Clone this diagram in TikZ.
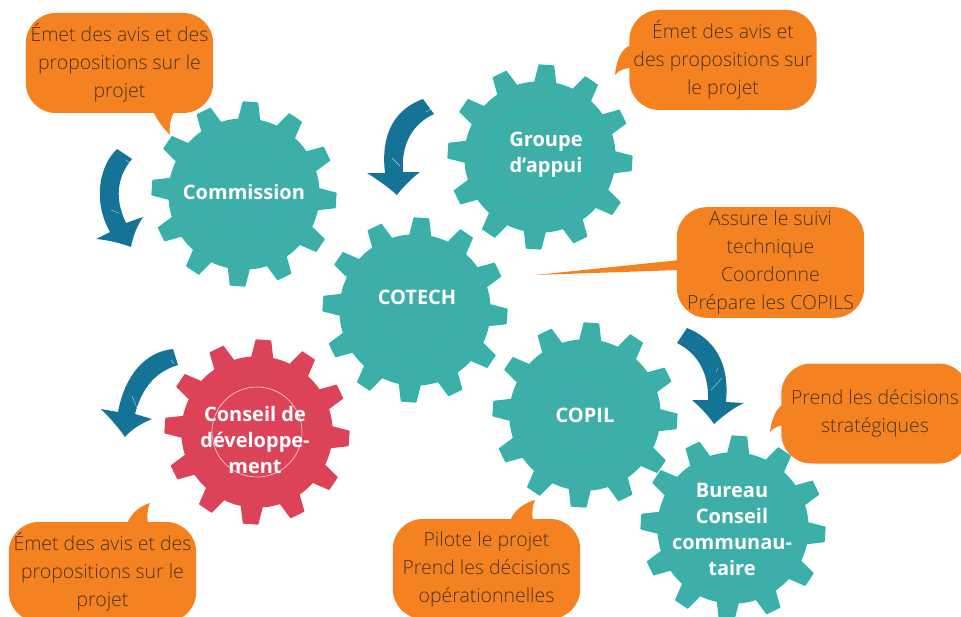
\documentclass[tikz,border=0pt]{standalone}
\usepackage{fontspec}
\setmainfont{Open Sans Light}[BoldFont={Open Sans Bold}]
\usepackage{tikz}
\usetikzlibrary{positioning}

\definecolor{bubbleorange}{HTML}{F58220}
\definecolor{gearteal}{HTML}{3DAFA8}
\definecolor{gearedge}{HTML}{2DB5AD}
\definecolor{gearred}{HTML}{DC4358}
\definecolor{arrowblue}{HTML}{147396}
\definecolor{bubbletext}{HTML}{4A3420}

\tikzset{
  bubble/.style = {fill=bubbleorange, rounded corners=30*0.75pt, inner sep=0pt, align=center,
    text=bubbletext, font=\fontsize{14.6pt}{21pt}\selectfont, minimum width=140.5pt, minimum height=75pt},
  gearlabel/.style = {text=white, align=center, inner sep=0pt, font=\fontsize{15pt}{19.5pt}\selectfont\bfseries},
  bentarrow/.style = {fill=arrowblue},
  scratch/.style = {white, line width=.3pt, opacity=.7}
}

% center, rotation, colour, hub ring
\newcommand{\cogwheel}[4]{
  \begin{scope}[shift = {(#1)}, rotate = #2]
    \draw[#3, fill=#3!100, line width=1pt, line join=round, draw=#4] (-8:75) \foreach \a in {0,30,...,330} {
      -- (\a-8:75) -- (\a-4.5:92) -- (\a+4.5:92) -- (\a+8:75) arc[start angle=\a+8, end angle=\a+22, radius=75]
    } -- cycle;
  \end{scope}
}

\begin{document}
\begin{tikzpicture}[x=0.75pt, y=-0.75pt]
  \useasboundingbox (0,0) rectangle (961,617);
  \clip (0,0) rectangle (961,617);

  % gears
  \cogwheel{244,194}{-4}{gearteal}{gearedge}
  \cogwheel{540,157}{-4}{gearteal}{gearedge}
  \cogwheel{415,310}{-4}{gearteal}{gearedge}
  \cogwheel{585,415}{-4}{gearteal}{gearedge}
  \cogwheel{257,432}{-4}{gearred}{gearred}
  \cogwheel{733,528}{-4}{gearteal}{gearedge}

  \draw[gearedge, line width=.5pt] (244,194) circle (46);
  \draw[gearedge, line width=2pt] (540,157) circle (50);
  \draw[gearedge, line width=.5pt] (415,310) circle (46);
  \draw[gearedge, line width=1pt] (585,415) circle (46);
  \draw[white!70!gearred, line width=.5pt] (257,432) circle (45);
  \draw[gearedge, line width=.3pt] (733,528) circle (46);

  \node[gearlabel] (commission) at (244,192) {Commission};
  \node[gearlabel] (groupe) at (546,155) {Groupe\\d'appui};
  \node[gearlabel] (cotech) at (417,297) {COTECH};
  \node[gearlabel] (copil) at (585,415) {COPIL};
  \node[gearlabel] (conseil) at (255,440) {Conseil de\\développe-\\ment};
  \node[gearlabel] (bureau) at (732,529) {Bureau\\Conseil\\communau-\\taire};

  % arrows
  \fill[bentarrow] (117,149) .. controls (100,165) and (92,200) .. (110,232) -- (96,239)
    .. controls (108,240) and (120,243) .. (131,247) .. controls (133,236) and (137,226) .. (143,217)
    -- (126,223) .. controls (115,200) and (116,178) .. (132,159) -- cycle;
  \fill[bentarrow] (423,99) .. controls (398,108) and (380,130) .. (385,173) -- (367,173)
    .. controls (378,180) and (388,187) .. (397,195) .. controls (403,187) and (411,179) .. (420,172)
    -- (403,172) .. controls (401,145) and (412,124) .. (434,114) -- cycle;
  \fill[bentarrow] (687,328) .. controls (712,338) and (730,360) .. (726,402) -- (744,403)
    .. controls (733,408) and (723,416) .. (714,424) .. controls (708,415) and (700,407) .. (692,400)
    -- (708,400) .. controls (709,375) and (699,354) .. (677,343) -- cycle;
  \fill[bentarrow] (173,349) .. controls (145,352) and (125,375) .. (118,412) -- (101,409)
    .. controls (110,418) and (118,427) .. (125,437) .. controls (131,430) and (140,424) .. (152,419)
    -- (135,414) .. controls (142,388) and (155,372) .. (178,365) -- cycle;

  \draw[scratch] (111,210) -- (119,213) (126,160) -- (130,163);
  \draw[scratch] (392,158) -- (400,166) (426,112) -- (431,109);
  \draw[scratch] (711,390) -- (722,378) (716,372) -- (718,368);
  \draw[scratch] (132,396) -- (137,408) (171,360) -- (174,364);

  % bubbles
  \fill[bubbleorange] (153,111) .. controls (158,122) and (165,130) .. (170,135) .. controls (169,128) and (170,118) .. (175,111) -- cycle;
  \fill[bubbleorange] (631,45) .. controls (621,48) and (616,62) .. (615,75) .. controls (619,70) and (625,68) .. (631,68) -- cycle;
  \fill[bubbleorange] (680,260) -- (535,275) -- (680,270) -- cycle;
  \fill[bubbleorange] (787,402) .. controls (777,405) and (771,420) .. (770,432) .. controls (774,427) and (780,425) .. (787,425) -- cycle;
  \fill[bubbleorange] (127,524) .. controls (131,513) and (140,506) .. (150,503) .. controls (147,509) and (147,517) .. (148,524) -- cycle;
  \fill[bubbleorange] (510,521) .. controls (514,510) and (524,503) .. (535,500) .. controls (532,506) and (532,514) .. (533,521) -- cycle;

  \node[bubble] (commission avis) at (119.5,63) {Émet des avis et des\\propositions sur le\\projet};
  \node[bubble] (groupe avis) at (723,60) {Émet des avis et\\des propositions sur\\le projet};
  \node[bubble, minimum height=83pt] (cotech suivi) at (770.5,262.5) {Assure le suivi\\technique\\Coordonne\\Prépare les COPILS};
  \node[bubble] (bureau avis) at (875,413.5) {Prend les décisions\\stratégiques};
  \node[bubble] (conseil avis) at (102.5,572) {Émet des avis et des\\propositions sur le\\projet};
  \node[bubble] (copil avis) at (486.5,569) {Pilote le projet\\Prend les décisions\\opérationnelles};
\end{tikzpicture}
\end{document}
